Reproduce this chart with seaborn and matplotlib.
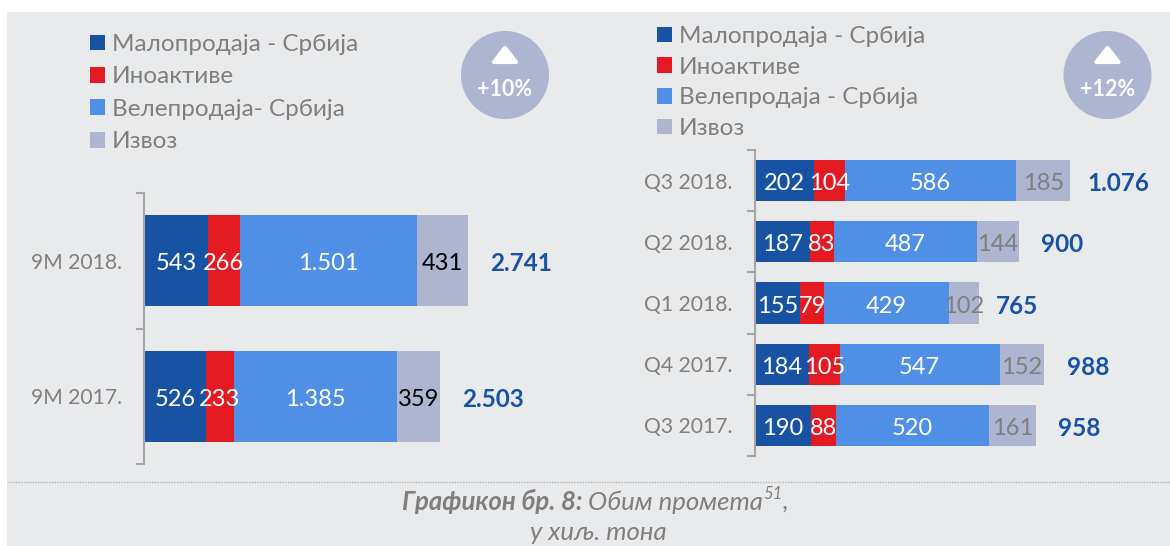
#importing libraries
import matplotlib
matplotlib.use("Agg")
import matplotlib.pyplot as plt
from matplotlib.patches import Rectangle, Circle, Polygon
import numpy as np
import seaborn as sns

#left chart data
left_periods = ["9M 2018.", "9M 2017."]
left_retail = [543, 526]
left_inoaktive = [266, 233]
left_wholesale = [1501, 1385]
left_export = [431, 359]
left_labels_wholesale = ["1.501", "1.385"]
left_totals = ["2.741", "2.503"]

#right chart data
right_periods = ["Q3 2018.", "Q2 2018.", "Q1 2018.", "Q4 2017.", "Q3 2017."]
right_retail = [202, 187, 155, 184, 190]
right_inoaktive = [104, 83, 79, 105, 88]
right_wholesale = [586, 487, 429, 547, 520]
right_export = [185, 144, 102, 152, 161]
right_totals = ["1.076", "900", "765", "988", "958"]

#legend names
left_names = ["Малопродаја - Србија", "Иноактиве", "Велепродаја- Србија", "Извоз"]
right_names = ["Малопродаја - Србија", "Иноактиве", "Велепродаја - Србија", "Извоз"]

#colors
colors = ["#1752A3", "#E41A23", "#4F8FE6", "#ADB5D0"]
bg_color = "#E9EAEC"
gray_text = "#7F7F7F"
total_color = "#1752A3"

W, H = 1170, 546

sns.set_theme(style="white")
plt.rcParams["font.family"] = ["Lato", "Noto Sans", "DejaVu Sans"]

fig = plt.figure(figsize=(W / 100, H / 100), dpi=100, facecolor="white")


#axes from pixel box measured from the top left corner
def pixel_axes(x0, y0, x1, y1):
    return fig.add_axes([x0 / W, 1 - y1 / H, (x1 - x0) / W, (y1 - y0) / H])


#page layer for background, badges and caption
page = pixel_axes(0, 0, W, H)
page.set_xlim(0, W)
page.set_ylim(H, 0)
page.axis("off")
page.add_patch(Rectangle((7, 12), W - 7, H - 12, color=bg_color, lw=0))
page.plot([7, W], [482, 482], color="#B5B7BA", lw=1, ls=(0, (1, 1)))


#round badge with arrow
def badge(cx, text):
    page.add_patch(Circle((cx, 75), 44, color=colors[3], lw=0))
    page.add_patch(Polygon([(cx, 48), (cx - 11, 62), (cx + 11, 62)], closed=True,
                           facecolor="white", edgecolor="white", lw=3, joinstyle="round"))
    page.text(cx, 90, text, color="white", fontsize=15.5, fontweight="bold", ha="center", va="center")


badge(505, "+10%")
badge(1107.5, "+12%")

#stacked bars drawn with seaborn
def stacked(ax, periods, series, value_labels, totals, gaps, last_color, names, legend_xy, spacing, xmax):
    left = np.zeros(len(periods))
    for values, color, labels, name in zip(series, colors, value_labels, names):
        sns.barplot(x=values, y=periods, left=left, color=color, saturation=1, width=0.67,
                    orient="h", ax=ax, label=name, linewidth=0)
        text_color = last_color if color == colors[3] else "white"
        for t in ax.bar_label(ax.containers[-1], labels=labels, label_type="center", color=text_color, fontsize=17):
            t.xyann = (0, -2.2)
        left = left + np.array(values)
    for i, total in enumerate(totals):
        ax.annotate(total, (left[i], i), xytext=(gaps[i] * 0.72, -2.2), textcoords="offset points",
                    color=total_color, fontsize=17.5, fontweight="bold", va="center", ha="left")
    ax.set_xlim(0, xmax)
    ax.set_ylim(len(periods) - 0.5, -0.5)
    ax.patch.set_alpha(0)
    for side in ["top", "right", "bottom"]:
        ax.spines[side].set_visible(False)
    ax.spines["left"].set_color("#A6A6A6")
    ax.spines["left"].set_linewidth(1.5)
    ax.xaxis.set_visible(False)
    ax.set_yticks(np.arange(-0.5, len(periods)), minor=True)
    ax.tick_params(axis="y", which="minor", length=6, width=1.5, color="#A6A6A6", left=True)
    ax.tick_params(axis="y", which="major", length=0, pad=16, labelcolor=gray_text, labelsize=15.2)
    ax.legend(loc="upper left", bbox_to_anchor=legend_xy, bbox_transform=fig.transFigure,
              frameon=False, borderpad=0, borderaxespad=0, fontsize=17.5, handlelength=0.62,
              handleheight=0.62, handletextpad=0.29, labelspacing=spacing, labelcolor=gray_text)


left_ax = pixel_axes(144, 193, 540, 464)
stacked(left_ax, left_periods, [left_retail, left_inoaktive, left_wholesale, left_export],
        [left_retail, left_inoaktive, left_labels_wholesale, left_export],
        left_totals, [22, 22], "black", left_names, (90 / W, 1 - 34 / H), 0.47, 396 / (324 / 2741))

right_ax = pixel_axes(755, 150, 1160, 456)
stacked(right_ax, right_periods, [right_retail, right_inoaktive, right_wholesale, right_export],
        [right_retail, right_inoaktive, right_wholesale, right_export],
        right_totals, [17, 22, 17, 23, 22], gray_text, right_names, (657 / W, 1 - 26 / H), 0.40, 405 / (315 / 1076))

#caption pieces chained one after another
cap1 = page.text(402, 501, "Графикон бр. 8:", color=gray_text, fontsize=18.5, fontweight="bold",
                 fontstyle="italic", va="center", ha="left")
cap2 = page.annotate(" Обим промета", xy=(1, 0), xycoords=cap1, color=gray_text, fontsize=18.5,
                     fontstyle="italic", va="bottom", ha="left")
cap3 = page.annotate("51", xy=(1, 0.5), xycoords=cap2, color=gray_text, fontsize=12,
                     fontstyle="italic", va="bottom", ha="left")
page.annotate(",", xy=(1, 0), xycoords=cap2, xytext=(14, 0), textcoords="offset points", color=gray_text,
              fontsize=18.5, fontstyle="italic", va="bottom", ha="left")
page.text(598, 533, "у хиљ. тона", color=gray_text, fontsize=18.5, fontstyle="italic", va="center", ha="center")

fig.savefig("out.png", dpi=100, facecolor="white")
